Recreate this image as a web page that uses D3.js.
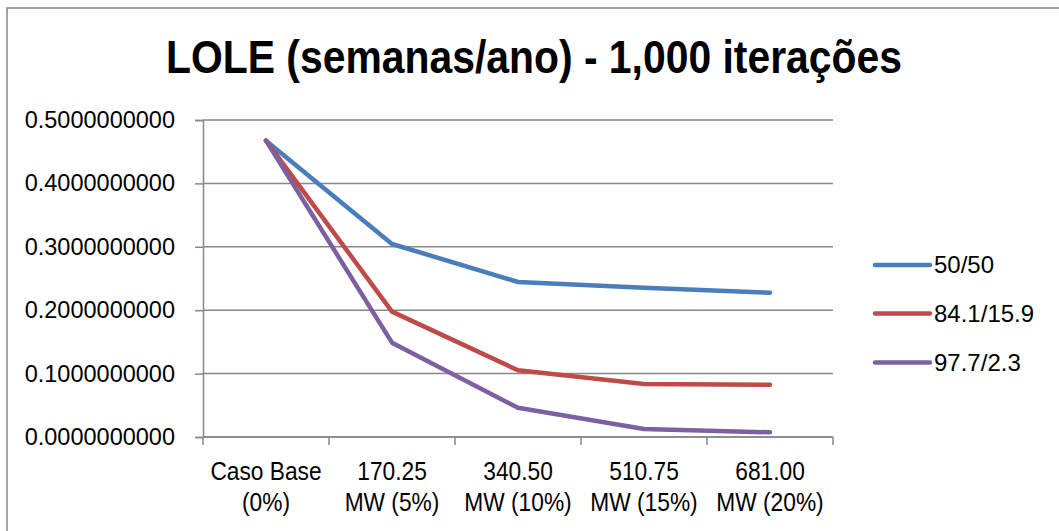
<!DOCTYPE html>
<html>
<head>
<meta charset="utf-8">
<script src="https://cdn.jsdelivr.net/npm/d3@7"></script>
<style>
  html, body { margin: 0; padding: 0; background: #fff; }
  svg { display: block; }
  text { font-family: "Liberation Sans", Arial, sans-serif; fill: #000; }
</style>
</head>
<body>
<script>
const categories = [
  ["Caso Base", "(0%)"],
  ["170.25", "MW (5%)"],
  ["340.50", "MW (10%)"],
  ["510.75", "MW (15%)"],
  ["681.00", "MW (20%)"]
];
const seriesNames = ["50/50", "84.1/15.9", "97.7/2.3"];
const values5050 = [0.4674, 0.3044, 0.2445, 0.2355, 0.2276];
const values841 = [0.4674, 0.1977, 0.1052, 0.0836, 0.0825];
const values977 = [0.4674, 0.1488, 0.0460, 0.0126, 0.0074];
const seriesColors = ["#4A7EBB", "#BE4B48", "#7D60A0"];
const yTicks = [0, 0.1, 0.2, 0.3, 0.4, 0.5];
const title = "LOLE (semanas/ano) - 1,000 iterações";

const series = [values5050, values841, values977];

const W = 1059, H = 531;
const svg = d3.select("body").append("svg").attr("width", W).attr("height", H);

// outer chart border
svg.append("rect").attr("x", 7).attr("y", 8).attr("width", 1080).attr("height", 560)
  .attr("fill", "#fff").attr("stroke", "#888").attr("stroke-width", 1.5);

// title
svg.append("text")
  .attr("x", 166).attr("y", 73)
  .attr("font-size", 47).attr("font-weight", "bold")
  .attr("textLength", 736).attr("lengthAdjust", "spacingAndGlyphs")
  .text(title);

const plot = { left: 203, right: 833, top: 120, bottom: 437 };

const x = d3.scaleBand().domain(d3.range(categories.length))
  .range([plot.left, plot.right]).padding(0);
const y = d3.scaleLinear().domain([0, 0.5]).range([plot.bottom, plot.top]);

// gridlines
svg.append("g").selectAll("line").data(yTicks).join("line")
  .attr("x1", plot.left).attr("x2", plot.right)
  .attr("y1", d => y(d)).attr("y2", d => y(d))
  .attr("stroke", "#878787").attr("stroke-width", 1.5);

// y axis
const yAxis = svg.append("g").attr("transform", `translate(${plot.left},0)`)
  .call(d3.axisLeft(y).tickValues(yTicks).tickFormat(d => d.toFixed(10)).tickSize(8).tickPadding(20));
yAxis.select(".domain").attr("stroke", "#878787").attr("stroke-width", 1.5);
yAxis.selectAll(".tick line").attr("stroke", "#878787").attr("stroke-width", 1.5);
yAxis.selectAll(".tick text").attr("font-size", 23.5)
  .attr("font-family", '"Liberation Sans", Arial, sans-serif').attr("fill", "#000");

// x axis
const boundaries = d3.range(categories.length + 1).map(i => plot.left + i * x.step());
const xg = svg.append("g");
xg.append("line").attr("x1", plot.left).attr("x2", plot.right)
  .attr("y1", plot.bottom).attr("y2", plot.bottom)
  .attr("stroke", "#878787").attr("stroke-width", 1.5);
xg.selectAll("line.tk").data(boundaries).join("line").attr("class", "tk")
  .attr("x1", d => d).attr("x2", d => d)
  .attr("y1", plot.bottom).attr("y2", plot.bottom + 8)
  .attr("stroke", "#878787").attr("stroke-width", 1.5);
const xl = xg.selectAll("text").data(categories).join("text")
  .attr("text-anchor", "middle").attr("font-size", 25)
  .attr("transform", (d, i) => `translate(${x(i) + x.bandwidth() / 2},0) scale(0.91,1)`);
xl.append("tspan").attr("x", 0).attr("y", 480).text(d => d[0]);
xl.append("tspan").attr("x", 0).attr("y", 511).text(d => d[1]);

// lines
const line = d3.line().x((d, i) => x(i) + x.bandwidth() / 2).y(d => y(d));
svg.append("g").selectAll("path").data(series).join("path")
  .attr("d", d => line(d))
  .attr("fill", "none")
  .attr("stroke", (d, i) => seriesColors[i])
  .attr("stroke-width", 4.5)
  .attr("stroke-linecap", "round").attr("stroke-linejoin", "round");

// legend
const legendY = [265, 313.5, 362.5];
const lg = svg.append("g").selectAll("g").data(seriesNames).join("g")
  .attr("transform", (d, i) => `translate(875,${legendY[i]})`);
lg.append("line").attr("x1", 0).attr("x2", 55).attr("y1", 0).attr("y2", 0)
  .attr("stroke", (d, i) => seriesColors[i]).attr("stroke-width", 4.5).attr("stroke-linecap", "round");
lg.append("text").attr("x", 59).attr("y", 0).attr("dy", "0.35em").attr("font-size", 24).text(d => d);
</script>
</body>
</html>
